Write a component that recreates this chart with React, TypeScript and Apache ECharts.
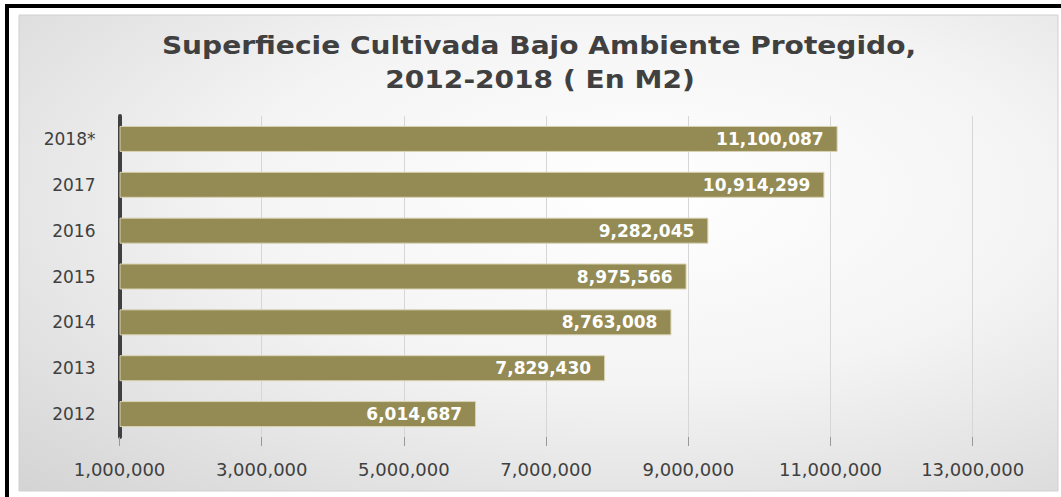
import React, { useEffect, useRef } from "react";
import * as echarts from "echarts";

const TITLE_LINE_1 = "Superfiecie Cultivada Bajo Ambiente Protegido,";
const TITLE_LINE_2 = "2012-2018 ( En M2)";
const categories = ["2012", "2013", "2014", "2015", "2016", "2017", "2018*"];
const surfaceM2 = [6014687, 7829430, 8763008, 8975566, 9282045, 10914299, 11100087];
const AXIS_BASE = 1000000;
const AXIS_MAX = 13000000;
const AXIS_STEP = 2000000;

const fmt = (v: number) => Math.round(v).toLocaleString("en-US");

export default function App() {
  const ref = useRef<HTMLDivElement>(null);
  useEffect(() => {
    if (!ref.current) return;
    const chart = echarts.init(ref.current, undefined, { renderer: "svg" });
    const font = "DejaVu Sans";
    const titleStyle = {
      fontFamily: font,
      fontWeight: "bold",
      fontSize: 24,
      fill: "#404040",
      align: "center",
      verticalAlign: "middle",
    };
    chart.setOption({
      animation: false,
      backgroundColor: "#ffffff",
      graphic: [
        { type: "rect", z: -10, silent: true, shape: { x: 5, y: 4, width: 1056, height: 4 }, style: { fill: "#000" } },
        { type: "rect", z: -10, silent: true, shape: { x: 5, y: 4, width: 4, height: 493 }, style: { fill: "#000" } },
        {
          type: "rect",
          z: -10,
          silent: true,
          shape: { x: 19, y: 15, width: 1039, height: 476 },
          style: {
            fill: new echarts.graphic.RadialGradient(0.6, 0.38, 1.3, [
              { offset: 0, color: "#ffffff" },
              { offset: 0.3, color: "#f4f4f4" },
              { offset: 1, color: "#b6b6b6" },
            ]),
            stroke: "#d0d0d0",
            lineWidth: 1,
          },
        },
        { type: "text", x: 539, y: 46, scaleX: 1.17, silent: true, style: { ...titleStyle, text: TITLE_LINE_1 } },
        { type: "text", x: 540, y: 80, scaleX: 1.17, silent: true, style: { ...titleStyle, text: TITLE_LINE_2 } },
      ],
      grid: { left: 119.5, right: 88.3, top: 116, bottom: 60, containLabel: false },
      xAxis: {
        type: "value",
        min: 0,
        max: AXIS_MAX - AXIS_BASE,
        interval: AXIS_STEP,
        axisLine: { show: false },
        axisTick: { show: true, length: 9, lineStyle: { color: "#999999", width: 1 } },
        splitLine: { show: true, lineStyle: { color: "#d6d6d6", width: 1 } },
        axisLabel: {
          margin: 23,
          fontFamily: font,
          fontSize: 18,
          color: "#404040",
          formatter: (v: number) => fmt(v + AXIS_BASE),
        },
      },
      yAxis: {
        type: "category",
        data: categories,
        axisLine: { show: true, lineStyle: { color: "#404040", width: 4 } },
        axisTick: { show: false },
        axisLabel: { margin: 24, fontFamily: font, fontSize: 17, color: "#404040" },
      },
      series: [
        {
          type: "bar",
          data: surfaceM2.map((v) => v - AXIS_BASE),
          barWidth: 26,
          itemStyle: { color: "#948a54", borderColor: "#d9d3b4", borderWidth: 1 },
          label: {
            show: true,
            position: "insideRight",
            distance: 14,
            fontFamily: font,
            fontWeight: "bold",
            fontSize: 17,
            color: "#ffffff",
            formatter: (p: any) => fmt(surfaceM2[p.dataIndex]),
          },
        },
      ],
    });
    return () => chart.dispose();
  }, []);
  return (
    <div
      ref={ref}
      style={{ position: "fixed", left: 0, top: 0, width: 1061, height: 497 }}
    />
  );
}
